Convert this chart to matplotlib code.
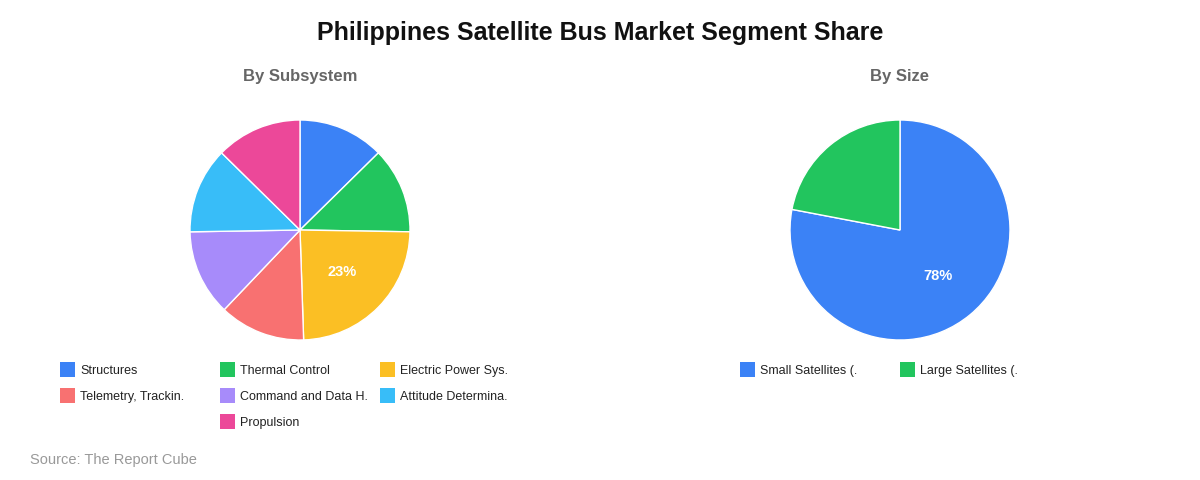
import matplotlib
matplotlib.use("Agg")
import matplotlib.pyplot as plt
from matplotlib.patches import Rectangle

plt.rcParams['font.family'] = ['Liberation Sans', 'DejaVu Sans']

subsystem_labels = ["Structures", "Thermal Control", "Electric Power Sys.",
                    "Telemetry, Trackin.", "Command and Data H.",
                    "Attitude Determina.", "Propulsion"]
subsystem_values = [12, 12, 23, 12, 12, 12, 12]
subsystem_colors = ["#3B82F6", "#22C55E", "#FBBF24", "#F87171",
                    "#A78BFA", "#38BDF8", "#EC4899"]

size_labels = ["Small Satellites (.", "Large Satellites (."]
size_values = [78, 22]
size_colors = ["#3B82F6", "#22C55E"]

W, H = 1200, 480
fig = plt.figure(figsize=(W / 100, H / 100), dpi=100)
fig.patch.set_facecolor("white")


def px_axes(x0, y0, w, h):
    return fig.add_axes([x0 / W, 1 - (y0 + h) / H, w / W, h / H])


def draw_pie(cx, cy, r, values, colors):
    ax = px_axes(cx - r, cy - r, 2 * r, 2 * r)
    total = sum(values)

    def fmt(p):
        v = p * total / 100
        return f"{v:.0f}%" if round(v) >= 23 else ""

    ax.pie(values, colors=colors, startangle=90, counterclock=False,
           autopct=fmt, pctdistance=0.54,
           wedgeprops=dict(edgecolor="white", linewidth=1),
           textprops=dict(color="white", fontsize=10.5, fontweight="bold"))
    ax.set_xlim(-1, 1)
    ax.set_ylim(-1, 1)
    ax.set_aspect("equal")
    ax.axis("off")
    return ax


def draw_legend(x0, y0, labels, colors, ncol=3, colw=160, rowh=26):
    n = len(labels)
    for i, (lab, col) in enumerate(zip(labels, colors)):
        r, c = divmod(i, ncol)
        items_in_row = min(ncol, n - r * ncol)
        offset = (ncol - items_in_row) // 2 if n > ncol else 0
        x = x0 + (c + offset) * colw
        y = y0 + r * rowh
        fig.patches.append(Rectangle((x / W, 1 - (y + 7.5) / H), 15 / W, 15 / H,
                                     transform=fig.transFigure, facecolor=col,
                                     edgecolor="none"))
        fig.text((x + 20) / W, 1 - (y + 0.5) / H, lab, fontsize=9, color="#222222",
                 ha="left", va="center_baseline")


fig.text(600 / W, 1 - 33 / H, "Philippines Satellite Bus Market Segment Share",
         ha="center", va="center", fontsize=18, fontweight="bold", color="#111111")
fig.text(300 / W, 1 - 77 / H, "By Subsystem", ha="center", va="center",
         fontsize=12, fontweight="bold", color="#666666")
fig.text(900 / W, 1 - 77 / H, "By Size", ha="center", va="center",
         fontsize=12, fontweight="bold", color="#666666")

draw_pie(300, 230, 110, subsystem_values, subsystem_colors)
draw_pie(900, 230, 110, size_values, size_colors)

draw_legend(60, 369, subsystem_labels, subsystem_colors)
draw_legend(740, 369, size_labels, size_colors)

fig.text(30 / W, 1 - 460 / H, "Source: The Report Cube", ha="left", va="center",
         fontsize=10.5, color="#999999")

fig.savefig("out.png", dpi=100, facecolor="white")
